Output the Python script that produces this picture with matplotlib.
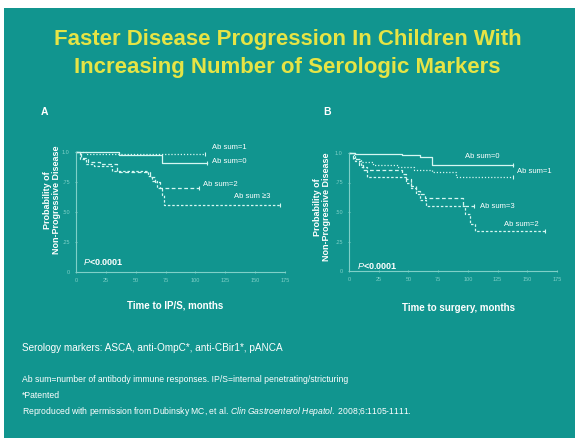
import matplotlib
matplotlib.use("Agg")
import matplotlib.pyplot as plt
from matplotlib.patches import Rectangle

plt.rcParams['font.family'] = ['Liberation Sans', 'DejaVu Sans']
plt.rcParams['mathtext.fontset'] = 'custom'
plt.rcParams['mathtext.rm'] = 'Liberation Sans'
plt.rcParams['mathtext.it'] = 'Liberation Sans:italic'
plt.rcParams['mathtext.bf'] = 'Liberation Sans:bold'

W, H = 575, 438
teal = '#11958f'
curve = '#d6f7f2'
faint = '#7fd0c8'
yellow = '#e6e445'

# panel A: time to IP/S
a_t0 = [0, 36, 72, 110]
a_s0 = [1.0, 0.975, 0.91, 0.91]
a_t1 = [0, 8, 108]
a_s1 = [1.0, 0.98, 0.98]
a_t2 = [0, 4, 10, 20, 34, 62, 66, 70, 103]
a_s2 = [1.0, 0.95, 0.92, 0.90, 0.83, 0.79, 0.75, 0.70, 0.70]
a_t3 = [0, 3, 8, 15, 30, 60, 64, 68, 72, 74, 171]
a_s3 = [1.0, 0.94, 0.90, 0.88, 0.84, 0.80, 0.76, 0.70, 0.64, 0.56, 0.56]
a_labels = ['Ab sum=0', 'Ab sum=1', 'Ab sum=2', 'Ab sum \u22653']
a_lab_t = [114, 114, 106, 132]
a_lab_s = [0.92, 1.04, 0.73, 0.625]

# panel B: time to surgery
b_t0 = [0, 5, 20, 45, 60, 70, 138]
b_s0 = [1.0, 0.99, 0.99, 0.98, 0.97, 0.90, 0.90]
b_t1 = [0, 4, 10, 20, 40, 55, 70, 90, 138]
b_s1 = [1.0, 0.95, 0.92, 0.90, 0.88, 0.86, 0.84, 0.80, 0.80]
b_t3 = [0, 3, 8, 12, 45, 48, 52, 56, 60, 64, 96, 105]
b_s3 = [1.0, 0.95, 0.90, 0.86, 0.82, 0.78, 0.72, 0.68, 0.65, 0.62, 0.55, 0.55]
b_t2 = [0, 5, 10, 15, 48, 52, 56, 60, 65, 98, 102, 106, 165]
b_s2 = [1.0, 0.93, 0.88, 0.80, 0.75, 0.70, 0.65, 0.60, 0.55, 0.48, 0.40, 0.34, 0.34]
b_labels = ['Ab sum=0', 'Ab sum=1', 'Ab sum=3', 'Ab sum=2']
b_lab_t = [98, 141, 110, 130]
b_lab_s = [0.97, 0.84, 0.55, 0.39]

x_ticks = [0, 25, 50, 75, 100, 125, 150, 175]
y_ticks = [0, 0.25, 0.5, 0.75, 1.0]
y_tick_labels = ['0', '.25', '.50', '.75', '1.0']

styles = ['-', (0, (1, 1.5)), (0, (3, 2)), (0, (2, 1.5))]


def fx(px):
    return px / W


def fy(py):
    return 1 - py / H


fig = plt.figure(figsize=(W / 100, H / 100), dpi=100)
fig.patch.set_facecolor('white')
fig.patches.append(Rectangle((fx(4), 0), 1 - fx(4), fy(8), transform=fig.transFigure,
                             facecolor=teal, edgecolor='none', zorder=-10))

fig.text(0.5, fy(40), 'Faster Disease Progression In Children With', ha='center', va='center',
         color=yellow, fontsize=16, fontweight='bold')
fig.text(0.5, fy(68), 'Increasing Number of Serologic Markers', ha='center', va='center',
         color=yellow, fontsize=16, fontweight='bold')


def panel(box, curves, labels, lab_t, lab_s, letter, letter_px, xlabel, xlab_px, ylab_px, p_px):
    left, top, right, bottom = box
    ax = fig.add_axes([fx(left), fy(bottom), fx(right) - fx(left), (bottom - top) / H])
    ax.set_facecolor('none')
    for (t, s), ls in zip(curves, styles):
        ax.step(t, s, where='post', color=curve, lw=0.9, linestyle=ls, clip_on=False)
        ax.plot(t[-1], s[-1], marker='|', color=curve, markersize=3, mew=0.8, clip_on=False)
    for lab, t, s in zip(labels, lab_t, lab_s):
        ax.text(t, s, lab, color='white', fontsize=5.5, va='center', ha='left')
    ax.set_xlim(0, 175)
    ax.set_ylim(0, 1.0)
    ax.set_xticks(x_ticks)
    ax.set_yticks(y_ticks)
    ax.set_yticklabels(y_tick_labels)
    ax.tick_params(colors=faint, labelsize=4, length=2, width=0.6, direction='inout')
    for side in ['top', 'right']:
        ax.spines[side].set_visible(False)
    for side in ['left', 'bottom']:
        ax.spines[side].set_color(faint)
        ax.spines[side].set_linewidth(0.8)
    fig.text(fx(letter_px[0]), fy(letter_px[1]), letter, color='white', fontsize=7.5,
             fontweight='bold', ha='center', va='center')
    fig.text(fx(xlab_px[0]), fy(xlab_px[1]), xlabel, color='white', fontsize=7,
             fontweight='bold', ha='center', va='center')
    fig.text(fx(ylab_px[0]), fy(ylab_px[1]), 'Probability of\nNon-Progressive Disease',
             color='white', fontsize=6.5, fontweight='bold', ha='center', va='center',
             rotation=90, linespacing=1.1)
    fig.text(fx(p_px[0]), fy(p_px[1]), r'$\mathbf{\mathit{P}}$<0.0001', color='white', fontsize=6.5,
             fontweight='bold', ha='left', va='center')
    return ax


panel((76, 152, 285, 272),
      [(a_t0, a_s0), (a_t1, a_s1), (a_t2, a_s2), (a_t3, a_s3)],
      a_labels, a_lab_t, a_lab_s, 'A', (44, 112), 'Time to IP/S, months', (175, 305),
      (52, 200), (83, 262))

panel((349, 153, 557, 271),
      [(b_t0, b_s0), (b_t1, b_s1), (b_t3, b_s3), (b_t2, b_s2)],
      b_labels, b_lab_t, b_lab_s, 'B', (327, 112), 'Time to surgery, months', (458, 308),
      (322, 207), (357, 266))

fig.text(fx(22), fy(348), 'Serology markers: ASCA, anti-OmpC*, anti-CBir1*, pANCA',
         color='white', fontsize=7.2, va='center')
fig.text(fx(22), fy(380), 'Ab sum=number of antibody immune responses. IP/S=internal penetrating/stricturing',
         color='white', fontsize=6.2, va='center')
fig.text(fx(22), fy(395), '*Patented', color='white', fontsize=6.2, va='center')
fig.text(fx(22), fy(411), 'Reproduced with permission from Dubinsky MC, et al. '
         r'$\mathit{Clin\ Gastroenterol\ Hepatol.}$ 2008;6:1105-1111.',
         color='white', fontsize=6.2, va='center')

fig.savefig('out.png', dpi=100, facecolor='white')
